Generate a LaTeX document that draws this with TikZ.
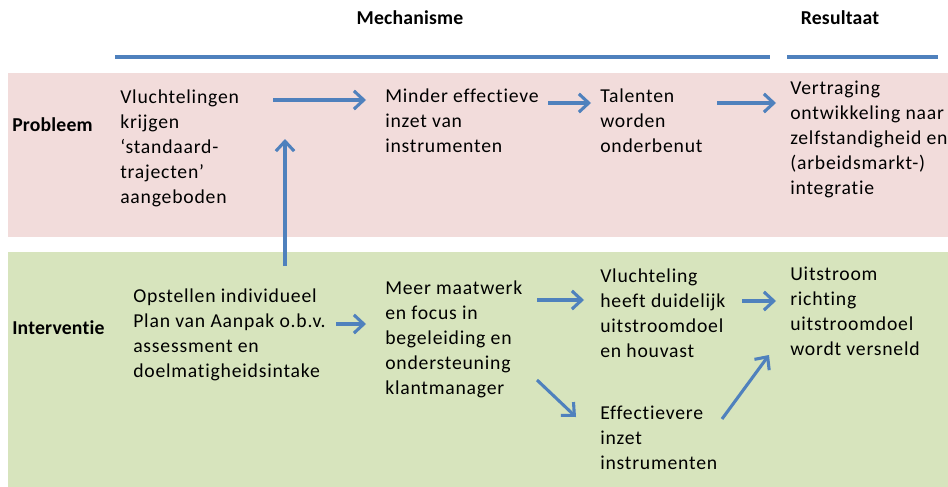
\documentclass[tikz,border=0pt]{standalone}
\usepackage{fontspec}
\setmainfont[LetterSpace=4,RawFeature=-liga]{Carlito}
\newfontfamily\kopfont[LetterSpace=1,RawFeature=-liga]{Carlito}
\usetikzlibrary{arrows.meta}

\definecolor{probleemrood}{HTML}{F2DCDB}
\definecolor{interventiegroen}{HTML}{D7E4BD}
\definecolor{pijlblauw}{HTML}{4F81BD}

\begin{document}
\begin{tikzpicture}[x=0.025cm,y=-0.025cm,>={Straight Barb[length=7pt,width=13pt]},
  txt/.style={anchor=north west,inner sep=0pt,align=left,font=\fontsize{14}{17.7}\selectfont},
  kop/.style={inner sep=0pt,font=\fontsize{14}{17.7}\kopfont\bfseries},
  pijl/.style={->,draw=pijlblauw,line width=2.2pt},
  streep/.style={draw=pijlblauw,line width=2.2pt}]

  \useasboundingbox (0,0) rectangle (948,487);
  \fill[probleemrood] (8,73) rectangle (948,237);
  \fill[interventiegroen] (8,252) rectangle (948,487);

  \node[kop] (mech) at (410,18) {Mechanisme};
  \node[kop] (res) at (840,18) {Resultaat};
  \draw[streep] (115,57) -- (770,57);
  \draw[streep] (787,57) -- (938,57);

  \node[kop,anchor=west] (prob) at (12,125) {Probleem};
  \node[kop,anchor=west] (interv) at (12,328) {Interventie};

  \node[txt] (vlucht) at (120,90) {Vluchtelingen\\krijgen\\‘standaard-\\trajecten’\\aangeboden};
  \node[txt] (minder) at (385,89) {Minder effectieve\\inzet van\\instrumenten};
  \node[txt] (talent) at (600,89) {Talenten\\worden\\onderbenut};
  \node[txt] (vertr) at (790,81) {Vertraging\\ontwikkeling naar\\zelfstandigheid en\\(arbeidsmarkt-)\\integratie};
  \node[txt] (pva) at (133,289) {Opstellen individueel\\Plan van Aanpak o.b.v.\\assessment en\\doelmatigheidsintake};
  \node[txt] (maat) at (385,281) {Meer maatwerk\\en focus in\\begeleiding en\\ondersteuning\\klantmanager};
  \node[txt] (doel) at (600,269) {Vluchteling\\heeft duidelijk\\uitstroomdoel\\en houvast};
  \node[txt] (uitstr) at (790,267) {Uitstroom\\richting\\uitstroomdoel\\wordt versneld};
  \node[txt] (effect) at (600,406) {Effectievere\\inzet\\instrumenten};

  \coordinate (vlucht-uit) at (273,100);
  \coordinate (minder-in) at (366,100);
  \coordinate (minder-uit) at (548,103);
  \coordinate (talent-in) at (591,103);
  \coordinate (talent-uit) at (717,103);
  \coordinate (vertr-in) at (776,103);
  \coordinate (pva-top) at (285,266);
  \coordinate (vlucht-onder) at (285,139);
  \coordinate (pva-uit) at (336,324);
  \coordinate (maat-in) at (366,324);
  \coordinate (maat-uit1) at (537,300);
  \coordinate (doel-in) at (584,300);
  \coordinate (doel-uit) at (742,301);
  \coordinate (uitstr-in) at (776,301);
  \coordinate (maat-uit2) at (537,380);
  \coordinate (effect-in) at (576,417);
  \coordinate (effect-uit) at (722,419);
  \coordinate (uitstr-in2) at (769,355);

  \draw[pijl] (vlucht-uit) -- (minder-in);
  \draw[pijl] (minder-uit) -- (talent-in);
  \draw[pijl] (talent-uit) -- (vertr-in);
  \draw[pijl] (pva-top) -- (vlucht-onder);
  \draw[pijl] (pva-uit) -- (maat-in);
  \draw[pijl] (maat-uit1) -- (doel-in);
  \draw[pijl] (doel-uit) -- (uitstr-in);
  \draw[pijl] (maat-uit2) -- (effect-in);
  \draw[pijl] (effect-uit) -- (uitstr-in2);

\end{tikzpicture}
\end{document}
